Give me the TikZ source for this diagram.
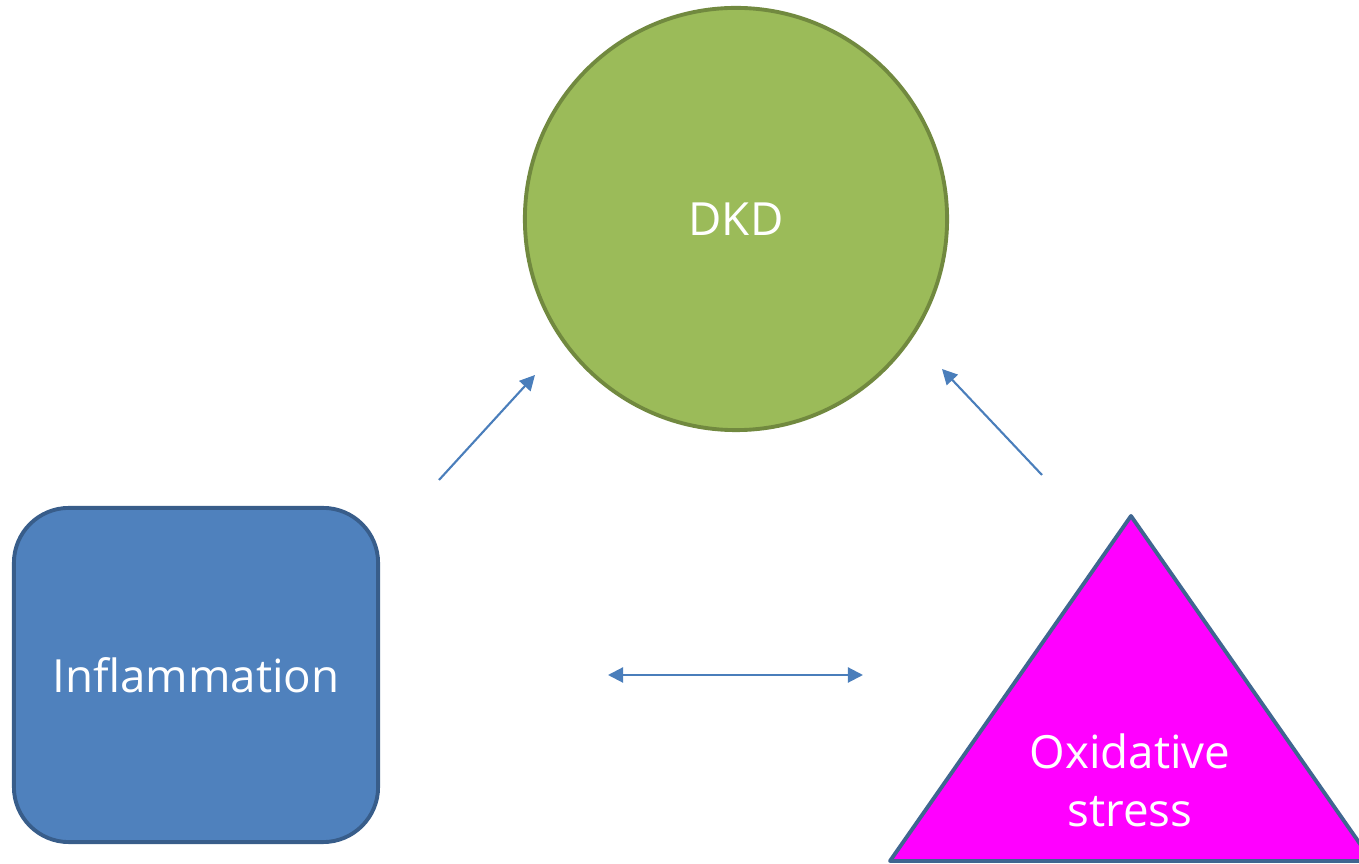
\documentclass[tikz,border=0pt]{standalone}
\usepackage{fontspec}
\setmainfont{Open Sans}
\usetikzlibrary{arrows.meta}

\definecolor{dkdfill}{HTML}{9BBB59}
\definecolor{dkdline}{HTML}{71893F}
\definecolor{inflfill}{HTML}{4F81BD}
\definecolor{inflline}{HTML}{385D8A}
\definecolor{oxfill}{HTML}{FF00FF}
\definecolor{oxline}{HTML}{3F6690}
\definecolor{arrowblue}{HTML}{4A7EBB}

\begin{document}
\begin{tikzpicture}[x=0.01cm, y=-0.01cm, >={Triangle[length=4.3pt, width=4.3pt]},
	every node/.style={text=white, font=\fontsize{13}{16.5}\selectfont},
	link/.style={arrowblue, line width=0.6pt}]
	\useasboundingbox (0,0) rectangle (1359,864);

	% DKD
	\node[circle, draw=dkdline, fill=dkdfill, line width=1.1pt, minimum size=4.22cm] (dkd) at (736,219) {DKD};

	% Inflammation
	\node[rectangle, rounded corners=0.55cm, draw=inflline, fill=inflfill, line width=1.1pt,
		minimum width=3.64cm, minimum height=3.34cm] (infl) at (196,675) {Inflammation};

	% Oxidative stress
	\draw[oxline, fill=oxfill, line width=1.1pt, line join=round] (1131,516) -- (890,861) -- (1372,861) -- cycle;
	\node[align=center] (ox) at (1130,780) {Oxidative\\stress};

	% arrows
	\coordinate (a1) at (439,480);
	\coordinate (b1) at (535,375);
	\coordinate (a2) at (1042,475);
	\coordinate (b2) at (942,369);
	\coordinate (a3) at (608,675);
	\coordinate (b3) at (863,675);
	\draw[link, ->] (a1) -- (b1);
	\draw[link, ->] (a2) -- (b2);
	\draw[link, <->] (a3) -- (b3);
\end{tikzpicture}
\end{document}
